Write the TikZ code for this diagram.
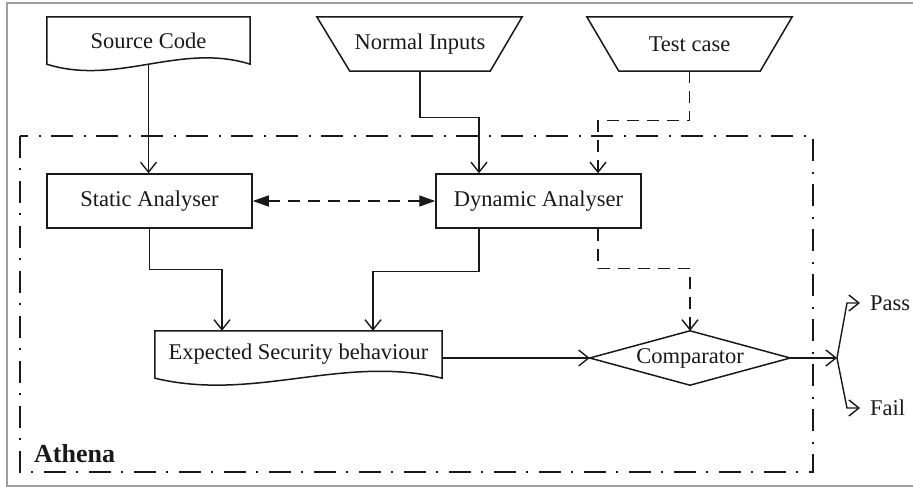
\documentclass[tikz,border=0pt]{standalone}
\usepackage{fontspec}
\setmainfont{Liberation Serif}
\usetikzlibrary{arrows.meta,calc}
\begin{document}
\begin{tikzpicture}[x=1pt,y=-1pt,
  txt/.style={font=\fontsize{22.5}{27}\selectfont, inner sep=0pt, text=black!90},
  box/.style={txt, draw=black!90, line width=1.5pt, minimum width=205pt, minimum height=54pt},
  ghost/.style={txt, draw=none, rectangle},
  outline/.style={draw=black!90, line width=1.5pt, line join=miter},
  wire/.style={draw=black!90, line width=1.4pt},
  arr/.style={wire, -{Straight Barb[length=10pt,width=16pt]}},
  dsh/.style={dash pattern=on 12pt off 8pt},
  twohead/.style={wire, dsh, {Triangle[length=16pt,width=11pt]}-{Triangle[length=16pt,width=11pt]}},
  boundary/.style={draw=black!90, line width=2.6pt, dash pattern=on 22pt off 10pt on 2pt off 11pt}
]
\useasboundingbox (0,0) rectangle (913,487);

% page frame
\draw[gray!75, line width=1.3pt] (913,3) -- (7,3) -- (7,486) -- (913,486);

% system boundary
\draw[boundary] (20,136) rectangle (813,472);
\node[font=\fontsize{26}{30}\selectfont\bfseries, text=black!90, anchor=base west, inner sep=0pt] (athlbl) at (34,462) {Athena};

% inputs
\node[ghost, minimum width=203pt, minimum height=47pt] (src) at (148.5,40.5) {Source Code};
\draw[outline] (src.south east) -- (src.north east) -- (src.north west) -- (src.south west)
  .. controls +(70,22) and +(-70,-22) .. (src.south east) -- cycle;

\node[ghost, minimum width=140pt, minimum height=54pt] (ni) at (420,44) {Normal Inputs};
\draw[outline] (ni.south west) -- (ni.south east) -- ([xshift=32pt]ni.north east)
  -- ([xshift=-33pt]ni.north west) -- cycle;

\node[ghost, minimum width=141pt, minimum height=54pt] (tc) at (689.5,44) {Test case};
\draw[outline] (tc.south west) -- (tc.south east) -- ([xshift=32pt]tc.north east)
  -- ([xshift=-32pt]tc.north west) -- cycle;

% analysers
\node[box] (sa) at (149.5,201) {Static Analyser};
\node[box] (da) at (538.5,201) {Dynamic Analyser};

% expected behaviour document
\node[ghost, minimum width=287pt, minimum height=47pt] (esb) at (298.5,354.5) {Expected Security behaviour};
\draw[outline] (esb.south east) -- (esb.north east) -- (esb.north west) -- (esb.south west)
  .. controls +(100,24) and +(-100,-24) .. (esb.south east) -- cycle;

% comparator decision
\node[ghost, minimum width=200pt, minimum height=54pt] (cmp) at (690,358) {Comparator};
\draw[outline] (cmp.west) -- (cmp.north) -- (cmp.east) -- (cmp.south) -- cycle;

% outcomes
\node[txt, anchor=west] (pass) at (870,303) {Pass};
\node[txt, anchor=west] (fail) at (870,408) {Fail};
\coordinate (split) at (837,358);

% connectors
\draw[arr] (src.south) -- (src.south |- sa.north);
\draw[arr] (ni.south) -- ++(0,46) -| ([xshift=-59.5pt]da.north);
\draw[arr, dsh] (tc.south) -- ++(0,49) -| ([xshift=59.5pt]da.north);
\draw[twohead] (sa.east) -- (da.west);
\draw[arr] (sa.south) -- ++(0,41) -| ([xshift=-76.5pt]esb.north);
\draw[arr] ([xshift=-59.5pt]da.south) -- ++(0,43) -| ([xshift=74.5pt]esb.north);
\draw[arr, dsh] ([xshift=59.5pt]da.south) -- ++(0,40) -| (cmp.north);
\draw[arr] (cmp.west -| esb.east) -- (cmp.west);
\draw[arr] (cmp.east) -- (split);
\draw[arr] (split) -- ($(split |- pass.west)+(10,0)$) -- ([xshift=-10pt]pass.west);
\draw[arr] (split) -- ($(split |- fail.west)+(10,0)$) -- ([xshift=-10pt]fail.west);
\end{tikzpicture}
\end{document}
